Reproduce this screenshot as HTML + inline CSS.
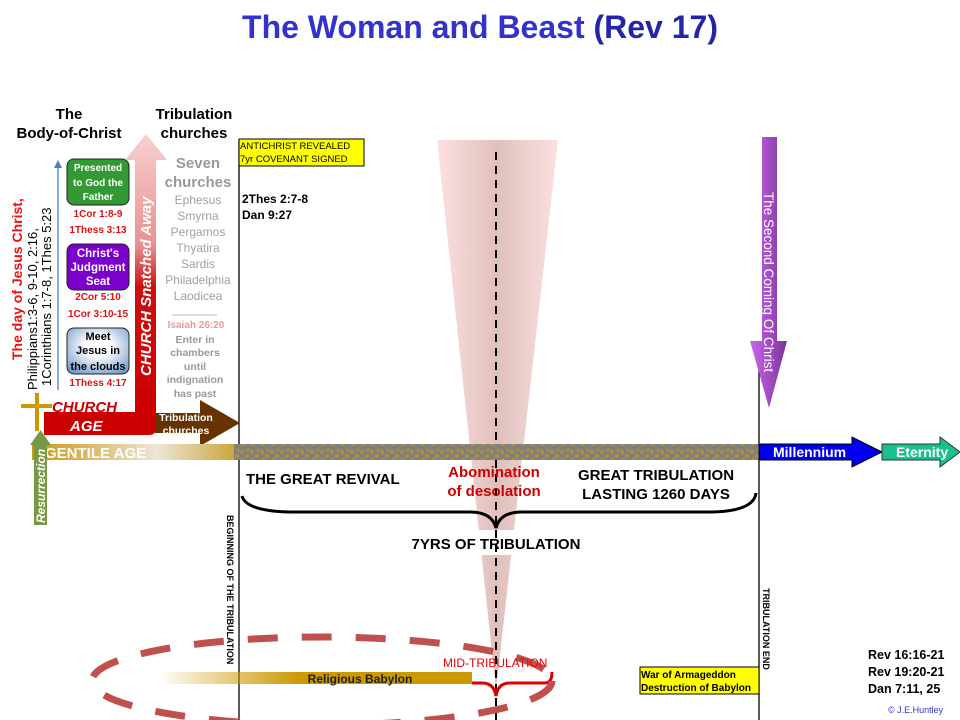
<!DOCTYPE html>
<html><head><meta charset="utf-8"><style>
html,body{margin:0;padding:0;background:#fff;}
svg{display:block;font-family:"Liberation Sans",Arial,sans-serif;}
</style></head><body>
<svg width="960" height="720" viewBox="0 0 960 720" xmlns="http://www.w3.org/2000/svg">
<defs>
<linearGradient id="cone" x1="0" x2="1" y1="0" y2="0">
<stop offset="0" stop-color="#fde0e0"/><stop offset="0.5" stop-color="#dfc0bc"/><stop offset="1" stop-color="#fde0e0"/></linearGradient>
<linearGradient id="gent" x1="0" x2="1"><stop offset="0" stop-color="#c99a10"/><stop offset="0.25" stop-color="#d9b560"/><stop offset="0.6" stop-color="#ece6d8"/><stop offset="1" stop-color="#c9a030"/></linearGradient>
<linearGradient id="snatch" x1="0" x2="0" y1="1" y2="0"><stop offset="0" stop-color="#cc0000"/><stop offset="0.45" stop-color="#cc1010"/><stop offset="0.6" stop-color="#e99090"/><stop offset="1" stop-color="#f8d0d0"/></linearGradient>
<linearGradient id="purp" x1="0" x2="1"><stop offset="0" stop-color="#cc66ee"/><stop offset="1" stop-color="#7a3399"/></linearGradient>
<linearGradient id="bab" x1="0" x2="1"><stop offset="0" stop-color="#cc9900" stop-opacity="0"/><stop offset="0.45" stop-color="#cc9900"/><stop offset="1" stop-color="#cc9900"/></linearGradient>
<radialGradient id="cloud" cx="0.5" cy="0.4" r="0.7"><stop offset="0.3" stop-color="#ffffff"/><stop offset="1" stop-color="#6f98c8"/></radialGradient>
<pattern id="dots" width="10" height="16" patternUnits="userSpaceOnUse">
<rect width="10" height="16" fill="#808080"/>
<circle cx="2" cy="4" r="1.9" fill="#b8922a"/><circle cx="7" cy="8" r="1.9" fill="#b8922a"/><circle cx="3" cy="12" r="1.9" fill="#b8922a"/><circle cx="8" cy="2" r="1.5" fill="#b8922a"/>
</pattern>
</defs>

<text x="480" y="38" text-anchor="middle" font-size="32" font-weight="bold" fill="#3333cc">The Woman and Beast <tspan fill="#2424aa">(Rev 17)</tspan></text>

<!-- cone -->
<polygon points="437,140 558,140 496,690" fill="url(#cone)"/>
<rect x="440" y="530" width="120" height="25" fill="#fff"/>

<!-- vertical lines -->
<line x1="239" y1="140" x2="239" y2="720" stroke="#000" stroke-width="1.3"/>
<line x1="759" y1="360" x2="759" y2="720" stroke="#000" stroke-width="1.3"/>
<line x1="496" y1="152" x2="496" y2="720" stroke="#000" stroke-width="2" stroke-dasharray="8,6"/>

<!-- titles left -->
<text font-size="15" font-weight="bold" text-anchor="middle"><tspan x="69" y="119">The</tspan><tspan x="69" y="138">Body-of-Christ</tspan></text>
<text font-size="15" font-weight="bold" text-anchor="middle"><tspan x="194" y="119">Tribulation</tspan><tspan x="194" y="138">churches</tspan></text>

<!-- rotated left refs -->
<text transform="translate(22,360) rotate(-90)" font-size="14" font-weight="bold" fill="#ee1111">The day of Jesus Christ,</text>
<text transform="translate(37,390) rotate(-90)" font-size="13" fill="#000">Philippians1:3-6,  9-10,  2:16,</text>
<text transform="translate(51,386) rotate(-90)" font-size="13" fill="#000">1Corinthians 1:7-8, 1Thes 5:23</text>

<!-- blue up line -->
<line x1="58" y1="390" x2="58" y2="166" stroke="#4a7ec0" stroke-width="1.3"/>
<polygon points="54,168 62,168 58,160" fill="#4a7ec0"/>

<!-- boxes -->
<rect x="67" y="159" width="62" height="46" rx="7" fill="#339933" stroke="#222" stroke-width="1"/>
<text font-size="10" font-weight="bold" fill="#fff" text-anchor="middle"><tspan x="98" y="171">Presented</tspan><tspan x="98" y="186">to God the</tspan><tspan x="98" y="200">Father</tspan></text>
<text font-size="10" font-weight="bold" fill="#dd1111" text-anchor="middle"><tspan x="98" y="217">1Cor 1:8-9</tspan><tspan x="98" y="233">1Thess 3:13</tspan></text>
<rect x="67" y="244" width="62" height="46" rx="7" fill="#7a00cc" stroke="#222" stroke-width="1"/>
<text font-size="11.5" font-weight="bold" fill="#fff" text-anchor="middle"><tspan x="98" y="257">Christ's</tspan><tspan x="98" y="271">Judgment</tspan><tspan x="98" y="285">Seat</tspan></text>
<text font-size="10" font-weight="bold" fill="#dd1111" text-anchor="middle"><tspan x="98" y="300">2Cor 5:10</tspan><tspan x="98" y="317">1Cor 3:10-15</tspan></text>
<rect x="67" y="328" width="62" height="46" rx="7" fill="url(#cloud)" stroke="#222" stroke-width="1"/>
<text font-size="11" font-weight="bold" fill="#000" text-anchor="middle"><tspan x="98" y="340">Meet</tspan><tspan x="98" y="354">Jesus in</tspan><tspan x="98" y="370">the clouds</tspan></text>
<text x="98" y="386" font-size="10" font-weight="bold" fill="#dd1111" text-anchor="middle">1Thess 4:17</text>

<!-- snatched away arrow -->
<polygon points="135,412 135,160 125,160 146,134 167,160 156,160 156,412" fill="url(#snatch)"/>
<text transform="translate(151,376) rotate(-90)" font-size="15" font-weight="bold" font-style="italic" fill="#fff">CHURCH Snatched Away</text>

<!-- seven churches -->
<text font-size="15" font-weight="bold" fill="#999" text-anchor="middle"><tspan x="198" y="168">Seven</tspan><tspan x="198" y="187">churches</tspan></text>
<text font-size="12" fill="#a0a0a0" text-anchor="middle"><tspan x="198" y="204">Ephesus</tspan><tspan x="198" y="220">Smyrna</tspan><tspan x="198" y="236">Pergamos</tspan><tspan x="198" y="252">Thyatira</tspan><tspan x="198" y="268">Sardis</tspan><tspan x="198" y="284">Philadelphia</tspan><tspan x="198" y="300">Laodicea</tspan></text>
<line x1="172" y1="315" x2="217" y2="315" stroke="#a8bcd8" stroke-width="1"/>
<text x="196" y="328" font-size="10" font-weight="bold" fill="#ea9a9a" text-anchor="middle">Isaiah 26:20</text>
<text font-size="10.5" font-weight="bold" fill="#999" text-anchor="middle"><tspan x="195" y="343">Enter in</tspan><tspan x="195" y="356">chambers</tspan><tspan x="195" y="370">until</tspan><tspan x="195" y="383">indignation</tspan><tspan x="195" y="397">has past</tspan></text>

<!-- church age -->
<path d="M44,412 L135,412 L135,390 L156,390 L156,428 Q156,435 149,435 L44,435 Z" fill="#cc0000"/>
<text x="52" y="412" font-size="15" font-weight="bold" font-style="italic" fill="#cc0000">CHURCH</text>
<text x="70" y="431" font-size="15" font-weight="bold" font-style="italic" fill="#fff">AGE</text>
<!-- cross -->
<rect x="35" y="393" width="4" height="38" fill="#cc9900"/>
<rect x="21" y="404" width="31" height="4" fill="#cc9900"/>

<!-- tribulation churches arrow -->
<polygon points="155,413 200,413 200,400 240,423 200,446 200,433 155,433" fill="#663300"/>
<text font-size="10.5" font-weight="bold" fill="#fff" text-anchor="middle"><tspan x="186" y="421">Tribulation</tspan><tspan x="186" y="434">churches</tspan></text>

<!-- timeline -->
<rect x="32" y="444" width="208" height="16" fill="url(#gent)"/>
<rect x="234" y="444" width="525" height="16" fill="url(#dots)"/>
<text x="45" y="458" font-size="15" font-weight="bold" fill="#fff">GENTILE AGE</text>

<!-- resurrection -->
<polygon points="34,525 34,445 30,445 40.5,430 51,445 47,445 47,525" fill="#779944"/>
<text transform="translate(45,523) rotate(-90)" font-size="12" font-weight="bold" font-style="italic" fill="#fff">Resurrection</text>

<!-- millennium / eternity -->
<polygon points="759,444 852,444 852,437 882,452 852,467 852,460 759,460" fill="#0000ee" stroke="#000" stroke-width="1"/>
<text x="773" y="457" font-size="14" font-weight="bold" fill="#fff">Millennium</text>
<polygon points="882,444 940,444 940,437 960,452 940,467 940,460 882,460" fill="#19c08f" stroke="#333" stroke-width="1"/>
<text x="896" y="457" font-size="14" font-weight="bold" fill="#fff">Eternity</text>

<!-- second coming -->
<polygon points="762,137 777,137 777,341 787,341 769,408 750,341 762,341" fill="url(#purp)"/>
<text transform="translate(764,192) rotate(90)" font-size="13.5" fill="#fff">The Second Coming Of Christ</text>

<!-- yellow top -->
<rect x="239" y="139" width="125" height="27" fill="#ffff00" stroke="#000" stroke-width="1"/>
<text font-size="9.5" fill="#000"><tspan x="240" y="149">ANTICHRIST   REVEALED</tspan><tspan x="240" y="162">7yr COVENANT  SIGNED</tspan></text>
<text font-size="12" font-weight="bold"><tspan x="242" y="203">2Thes 2:7-8</tspan><tspan x="242" y="219">Dan 9:27</tspan></text>

<!-- labels under timeline -->
<text x="246" y="484" font-size="15" font-weight="bold">THE GREAT REVIVAL</text>
<text font-size="15" font-weight="bold" fill="#cc0000" text-anchor="middle"><tspan x="494" y="477">Abomination</tspan><tspan x="494" y="496">of desolation</tspan></text>
<text font-size="15" font-weight="bold" text-anchor="middle"><tspan x="656" y="480">GREAT TRIBULATION</tspan><tspan x="656" y="499">LASTING 1260 DAYS</tspan></text>
<path d="M242,496 Q246,511 290,512 L470,512 Q492,512 496,528 Q500,512 522,512 L712,512 Q754,511 756,493" fill="none" stroke="#000" stroke-width="3"/>
<text x="496" y="549" font-size="15" font-weight="bold" text-anchor="middle">7YRS OF  TRIBULATION</text>

<!-- vertical labels -->
<text transform="translate(227,515) rotate(90)" font-size="9" font-weight="bold">BEGINNING  OF THE TRIBULATION</text>
<text transform="translate(763,588) rotate(90)" font-size="9" font-weight="bold">TRIBULATION END</text>

<!-- babylon -->
<rect x="158" y="672" width="314" height="12" fill="url(#bab)"/>
<text x="360" y="683" font-size="12" font-weight="bold" text-anchor="middle" fill="#222">Religious Babylon</text>
<path d="M472,683 L482,683 Q494,683 496,696 Q498,683 510,683 L545,683 Q552,683 552,672" fill="none" stroke="#dd0000" stroke-width="3"/>
<ellipse cx="322" cy="681" rx="230" ry="44" fill="none" stroke="#c0504d" stroke-width="7" stroke-dasharray="30,24"/>
<text x="443" y="667" font-size="12" fill="#ee0000">MID-TRIBULATION</text>

<rect x="640" y="667" width="119" height="27" fill="#ffff00" stroke="#000" stroke-width="1"/>
<text font-size="10" font-weight="bold"><tspan x="641" y="678">War of Armageddon</tspan><tspan x="641" y="691">Destruction of Babylon</tspan></text>

<text font-size="12.5" font-weight="bold"><tspan x="868" y="659">Rev 16:16-21</tspan><tspan x="868" y="676">Rev 19:20-21</tspan><tspan x="868" y="693">Dan 7:11, 25</tspan></text>
<text x="888" y="713" font-size="9" fill="#3333cc">© J.E.Huntley</text>
</svg>
</body></html>
